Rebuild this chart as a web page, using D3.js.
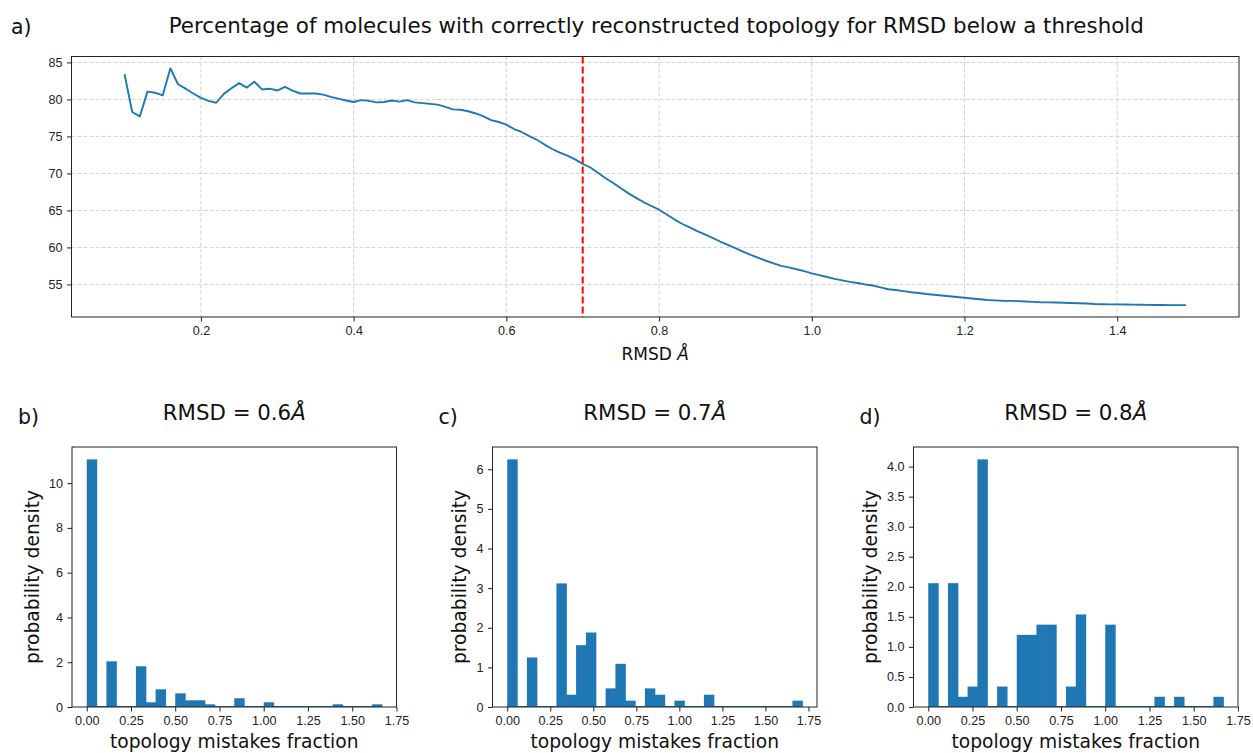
<!DOCTYPE html>
<html>
<head>
<meta charset="utf-8">
<script src="https://cdn.jsdelivr.net/npm/d3@7"></script>
<style>
  body { margin: 0; background: #fff; }
  svg { font-family: "DejaVu Sans", sans-serif; }
</style>
</head>
<body>
<svg id="fig" width="1253" height="753"></svg>
<script>
// RMSD thresholds (x) and % correct topology (y) for panel a)
const rmsdThresholds = [
  0.10, 0.11, 0.12, 0.13, 0.14, 0.15, 0.16, 0.17, 0.18, 0.19,
  0.20, 0.21, 0.22, 0.23, 0.24, 0.25, 0.26, 0.27, 0.28, 0.29,
  0.30, 0.31, 0.32, 0.33, 0.34, 0.35, 0.36, 0.37, 0.38, 0.39,
  0.40, 0.41, 0.42, 0.43, 0.44, 0.45, 0.46, 0.47, 0.48, 0.49,
  0.50, 0.51, 0.52, 0.53, 0.54, 0.55, 0.56, 0.57, 0.58, 0.59,
  0.60, 0.61, 0.62, 0.63, 0.64, 0.65, 0.66, 0.67, 0.68, 0.69,
  0.70, 0.71, 0.72, 0.73, 0.74, 0.75, 0.76, 0.77, 0.78, 0.79,
  0.80, 0.81, 0.82, 0.83, 0.84, 0.85, 0.86, 0.87, 0.88, 0.89,
  0.90, 0.91, 0.92, 0.93, 0.94, 0.95, 0.96, 0.97, 0.98, 0.99,
  1.00, 1.01, 1.02, 1.03, 1.04, 1.05, 1.06, 1.07, 1.08, 1.09,
  1.10, 1.11, 1.12, 1.13, 1.14, 1.15, 1.16, 1.17, 1.18, 1.19,
  1.20, 1.21, 1.22, 1.23, 1.24, 1.25, 1.26, 1.27, 1.28, 1.29,
  1.30, 1.31, 1.32, 1.33, 1.34, 1.35, 1.36, 1.37, 1.38, 1.39,
  1.40, 1.41, 1.42, 1.43, 1.44, 1.45, 1.46, 1.47, 1.48, 1.49
];
const percentCorrect = [
  83.4, 78.3, 77.7, 81.05, 80.9, 80.55, 84.2, 82.05, 81.45, 80.8,
  80.2, 79.8, 79.55, 80.75, 81.5, 82.2, 81.6, 82.4, 81.35, 81.45,
  81.2, 81.7, 81.2, 80.8, 80.8, 80.8, 80.65, 80.35, 80.1, 79.85,
  79.65, 79.9, 79.8, 79.6, 79.65, 79.85, 79.7, 79.9, 79.6, 79.5,
  79.4, 79.3, 79.0, 78.65, 78.6, 78.4, 78.1, 77.7, 77.2, 76.95,
  76.6, 76.0, 75.6, 75.05, 74.55, 73.9, 73.3, 72.8, 72.4, 71.9,
  71.3, 70.8, 70.1, 69.35, 68.7, 68.0, 67.3, 66.7, 66.1, 65.6,
  65.1, 64.45, 63.8, 63.2, 62.7, 62.2, 61.75, 61.3, 60.8, 60.35,
  59.9, 59.45, 59.0, 58.6, 58.2, 57.85, 57.5, 57.3, 57.05, 56.8,
  56.5, 56.25, 56.0, 55.75, 55.55, 55.35, 55.2, 55.0, 54.85, 54.6,
  54.35, 54.25, 54.1, 53.95, 53.85, 53.7, 53.6, 53.5, 53.4, 53.3,
  53.2, 53.1, 53.0, 52.9, 52.85, 52.8, 52.78, 52.75, 52.7, 52.65,
  52.6, 52.58, 52.55, 52.52, 52.5, 52.45, 52.42, 52.35, 52.33, 52.3,
  52.3, 52.28, 52.27, 52.25, 52.24, 52.23, 52.22, 52.21, 52.2, 52.2
];
const thresholdLine = 0.7;
const topXTicks = [0.2, 0.4, 0.6, 0.8, 1.0, 1.2, 1.4];
const topYTicks = [55, 60, 65, 70, 75, 80, 85];

// histograms b), c), d): 30 bins over [0, rangeMax], density per bin
const histLabels = ["b)", "c)", "d)"];
const histRmsd = ["0.6", "0.7", "0.8"];
const histRangeMax = [1.667, 1.714, 1.667];
const densityB = [11.06, 0, 2.04, 0, 0, 1.82, 0.21, 0.79, 0, 0.61, 0.30, 0.30, 0.12, 0, 0,
  0.39, 0, 0, 0.21, 0, 0, 0, 0, 0, 0, 0.12, 0, 0, 0, 0.12];
const densityC = [6.25, 0, 1.25, 0, 0, 3.12, 0.31, 1.56, 1.88, 0, 0.47, 1.09, 0.16, 0, 0.47,
  0.31, 0, 0.16, 0, 0, 0.31, 0, 0, 0, 0, 0, 0, 0, 0, 0.16];
const densityD = [2.06, 0, 2.06, 0.17, 0.34, 4.12, 0, 0.34, 0, 1.20, 1.20, 1.37, 1.37, 0, 0.34,
  1.54, 0, 0, 1.37, 0, 0, 0, 0, 0.17, 0, 0.17, 0, 0, 0, 0.17];
const histDensities = [densityB, densityC, densityD];
const histXTicks = [0, 0.25, 0.5, 0.75, 1.0, 1.25, 1.5, 1.75];
const histYTicks = [
  [0, 2, 4, 6, 8, 10],
  [0, 1, 2, 3, 4, 5, 6],
  [0, 0.5, 1.0, 1.5, 2.0, 2.5, 3.0, 3.5, 4.0]
];
const histYFormat = [d3.format("d"), d3.format("d"), d3.format(".1f")];

const blue = "#1f77b4";
const tickFont = 12.6;
const svg = d3.select("#fig");

// matplotlib-like axis styling
function styleAxis(g) {
  g.select(".domain").remove();
  g.selectAll(".tick line").attr("stroke", "#222").attr("stroke-width", 1);
  g.selectAll(".tick text").attr("fill", "#222").style("font-size", tickFont + "px");
}

function frame(g, w, h) {
  g.append("rect")
    .attr("x", 0).attr("y", 0)
    .attr("width", w).attr("height", h)
    .attr("fill", "none")
    .attr("stroke", "#222")
    .attr("stroke-width", 1);
}

// ---------- panel a) ----------
const boxA = { left: 71.5, right: 1239, top: 56.5, bottom: 317 };
const wA = boxA.right - boxA.left;
const hA = boxA.bottom - boxA.top;

svg.append("text").attr("x", 11).attr("y", 34)
  .style("font-size", "20.5px").attr("fill", "#111").text("a)");
svg.append("text").attr("x", (boxA.left + boxA.right) / 2 + 1).attr("y", 32.5)
  .attr("text-anchor", "middle")
  .style("font-size", "21.4px").attr("fill", "#111")
  .text("Percentage of molecules with correctly reconstructed topology for RMSD below a threshold");

const ga = svg.append("g").attr("transform", `translate(${boxA.left},${boxA.top})`);

const xMinA = d3.min(rmsdThresholds), xMaxA = d3.max(rmsdThresholds);
const yMinA = d3.min(percentCorrect), yMaxA = d3.max(percentCorrect);
const xPadA = (xMaxA - xMinA) * 0.05, yPadA = (yMaxA - yMinA) * 0.05;

const xA = d3.scaleLinear().domain([xMinA - xPadA, xMaxA + xPadA]).range([0, wA]);
const yA = d3.scaleLinear().domain([yMinA - yPadA, yMaxA + yPadA]).range([hA, 0]);

// grid
ga.append("g").selectAll("line").data(topXTicks).join("line")
  .attr("x1", d => xA(d)).attr("x2", d => xA(d))
  .attr("y1", 0).attr("y2", hA)
  .attr("stroke", "#d3d3d3").attr("stroke-width", 1).attr("stroke-dasharray", "4,2");
ga.append("g").selectAll("line").data(topYTicks).join("line")
  .attr("y1", d => yA(d)).attr("y2", d => yA(d))
  .attr("x1", 0).attr("x2", wA)
  .attr("stroke", "#d3d3d3").attr("stroke-width", 1).attr("stroke-dasharray", "4,2");

ga.append("g").attr("transform", `translate(0,${hA})`)
  .call(d3.axisBottom(xA).tickValues(topXTicks).tickFormat(d3.format(".1f"))
    .tickSizeOuter(0).tickSize(4.5).tickPadding(4.5))
  .call(styleAxis);
ga.append("g")
  .call(d3.axisLeft(yA).tickValues(topYTicks).tickFormat(d3.format("d"))
    .tickSizeOuter(0).tickSize(4.5).tickPadding(4.5))
  .call(styleAxis);

const lineA = d3.line()
  .x((d, i) => xA(rmsdThresholds[i]))
  .y(d => yA(d));
ga.append("path").datum(percentCorrect)
  .attr("fill", "none").attr("stroke", blue)
  .attr("stroke-width", 1.9).attr("stroke-linejoin", "round")
  .attr("d", lineA);

ga.append("line")
  .attr("x1", xA(thresholdLine)).attr("x2", xA(thresholdLine))
  .attr("y1", 0).attr("y2", hA)
  .attr("stroke", "red").attr("stroke-width", 2).attr("stroke-dasharray", "7,3");

frame(ga, wA, hA);

const xlabA = ga.append("text").attr("x", wA / 2).attr("y", hA + 43)
  .attr("text-anchor", "middle").style("font-size", "17px").attr("fill", "#111");
xlabA.append("tspan").text("RMSD ");
xlabA.append("tspan").style("font-style", "italic").text("Å");

// ---------- panels b), c), d) ----------
const histLefts = [72, 492.5, 913.5];
const histW = 324.5, histTop = 447, histBottom = 707;
const histH = histBottom - histTop;

histDensities.forEach((dens, k) => {
  const left = histLefts[k];
  const rMax = histRangeMax[k];
  const binW = rMax / dens.length;
  const bins = dens.map((v, i) => ({ x0: i * binW, x1: (i + 1) * binW, v }));

  svg.append("text").attr("x", left - 54).attr("y", 424)
    .style("font-size", "20.5px").attr("fill", "#111").text(histLabels[k]);

  const t = svg.append("text").attr("x", left + histW / 2).attr("y", 420)
    .attr("text-anchor", "middle").style("font-size", "21.3px").attr("fill", "#111");
  t.append("tspan").text("RMSD = " + histRmsd[k]);
  t.append("tspan").style("font-style", "italic").text("Å");

  const g = svg.append("g").attr("transform", `translate(${left},${histTop})`);
  const x = d3.scaleLinear().domain([-0.05 * rMax, 1.05 * rMax]).range([0, histW]);
  const yMax = d3.max(dens);
  const y = d3.scaleLinear().domain([0, yMax * 1.05]).range([histH, 0]);

  g.selectAll(".bar").data(bins.filter(b => b.v > 0)).join("rect")
    .attr("class", "bar")
    .attr("x", d => x(d.x0))
    .attr("width", d => x(d.x1) - x(d.x0) + 0.6)
    .attr("y", d => y(d.v))
    .attr("height", d => y(0) - y(d.v))
    .attr("fill", blue);

  // zero-height bins still draw a thin edge along the baseline
  g.append("line")
    .attr("x1", x(0)).attr("x2", x(rMax))
    .attr("y1", histH - 0.5).attr("y2", histH - 0.5)
    .attr("stroke", blue).attr("stroke-width", 1);

  g.append("g").attr("transform", `translate(0,${histH})`)
    .call(d3.axisBottom(x).tickValues(histXTicks).tickFormat(d3.format(".2f"))
      .tickSizeOuter(0).tickSize(4.5).tickPadding(4.5))
    .call(styleAxis);
  const ya = g.append("g")
    .call(d3.axisLeft(y).tickValues(histYTicks[k]).tickFormat(histYFormat[k])
      .tickSizeOuter(0).tickSize(4.5).tickPadding(4.5))
    .call(styleAxis);

  frame(g, histW, histH);

  const bb = ya.node().getBBox();
  g.append("text")
    .attr("transform", `translate(${bb.x - 10},${histH / 2}) rotate(-90)`)
    .attr("text-anchor", "middle")
    .style("font-size", "18.7px").attr("fill", "#111")
    .text("probability density");

  g.append("text").attr("x", histW / 2).attr("y", histH + 41)
    .attr("text-anchor", "middle")
    .style("font-size", "18.7px").attr("fill", "#111")
    .text("topology mistakes fraction");
});
</script>
</body>
</html>
